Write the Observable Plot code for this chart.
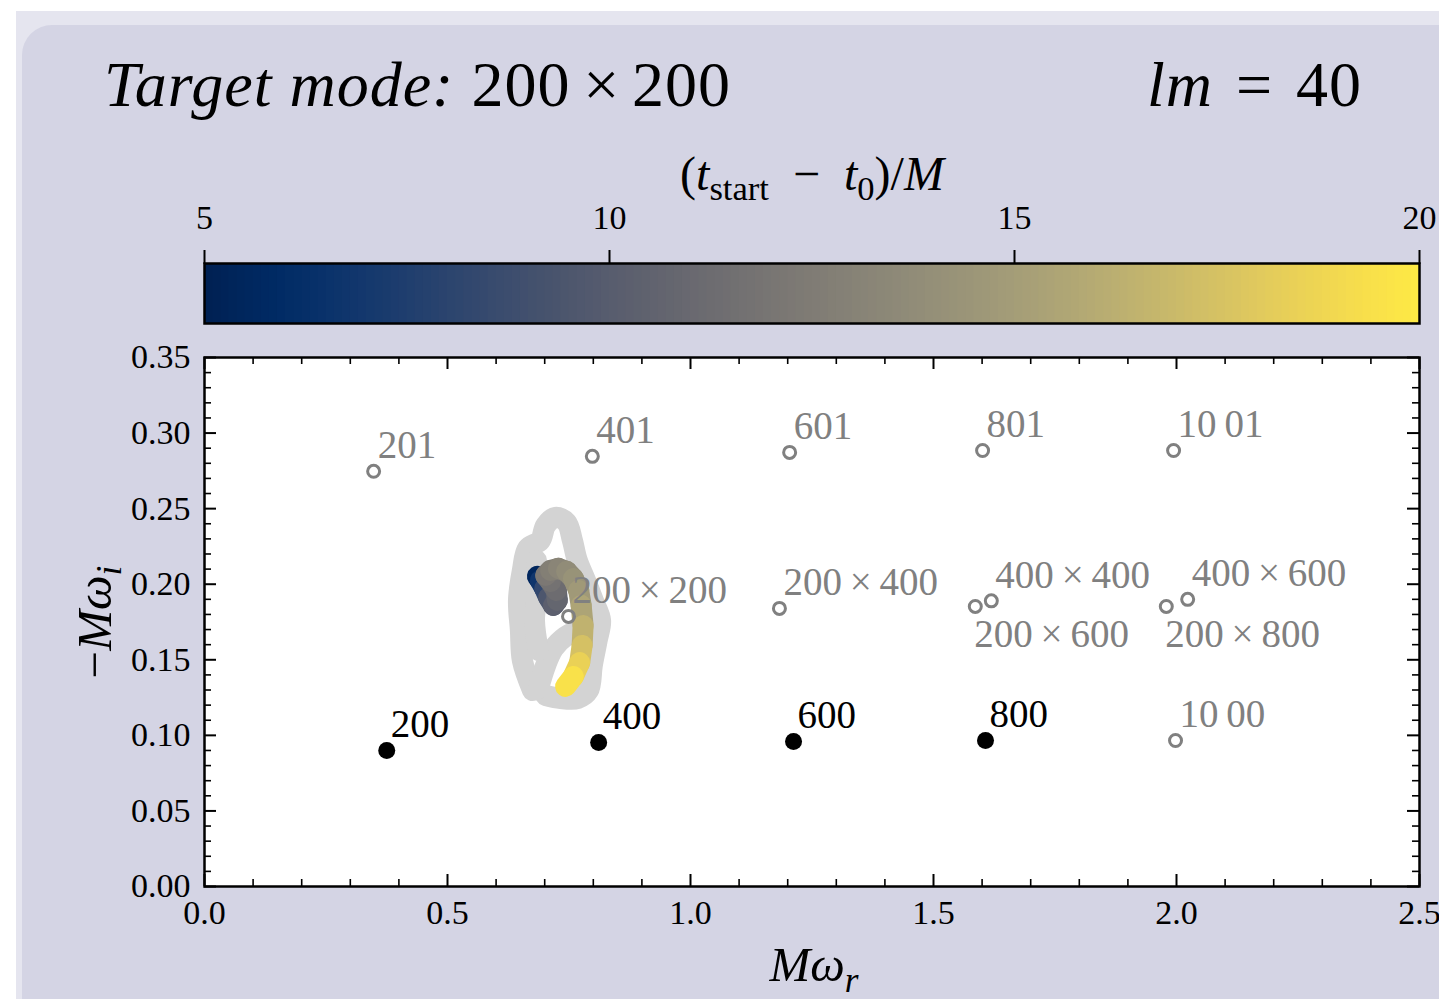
<!DOCTYPE html>
<html><head><meta charset="utf-8">
<script src="https://cdn.jsdelivr.net/npm/d3@7"></script>
<script src="https://cdn.jsdelivr.net/npm/@observablehq/plot@0.6"></script>
<style>
body{margin:0;background:#fff;width:1439px;height:999px;overflow:hidden;position:relative;font-family:"Liberation Serif","DejaVu Serif",serif;color:#000;}
#outer{position:absolute;left:16px;top:11px;width:1500px;height:1100px;background:#e5e5ef;}
#panel{position:absolute;left:22px;top:25px;width:1500px;height:1100px;background:#d4d4e4;border-radius:30px;}
.abs{position:absolute;white-space:nowrap;line-height:1;}
#cbar,#main{position:absolute;left:0;}
#cbar{top:150px;} #main{top:300px;}
sub{font-size:0.72em;vertical-align:-0.3em;line-height:0;}
</style></head><body>
<div id="outer"></div>
<div id="panel"></div>
<div id="cbar"></div>
<div id="main"></div>
<div class="abs" id="title" style="left:104px;top:53px;font-size:64px;letter-spacing:1px;"><i>Target mode:</i> 200<span style="letter-spacing:0">&thinsp;×&thinsp;</span>200</div>
<div class="abs" id="lm" style="right:77px;top:53px;font-size:64px;word-spacing:6px;letter-spacing:1px;"><i>lm</i> = 40</div>
<div class="abs" id="cblabel" style="left:812px;top:150px;font-size:48px;transform:translateX(-50%);">(<i>t</i><sub>start</sub>&ensp;−&ensp;<i>t</i><sub>0</sub>)/<i>M</i></div>
<div class="abs" id="xlabel" style="left:814px;top:940px;font-size:49px;transform:translateX(-50%);"><i>Mω</i><sub><i>r</i></sub></div>
<div class="abs" id="ylabel" style="left:94px;top:622px;font-size:49px;transform:translate(-50%,-50%) rotate(-90deg);">−<i>Mω</i><sub><i>i</i></sub></div>
<script>
// ---------- data ----------
const filledLabels = ["200", "400", "600", "800"];
const filledX = [0.375, 0.811, 1.212, 1.607];
const filledY = [0.090, 0.0953, 0.096, 0.0966];

const openLabels = ["10\u200900", "201", "401", "601", "801", "10\u200901",
  "200\u2009×\u2009200", "200\u2009×\u2009400", "200\u2009×\u2009600", "400\u2009×\u2009400", "200\u2009×\u2009800", "400\u2009×\u2009600"];
const openX = [1.998, 0.348, 0.798, 1.204, 1.601, 1.994, 0.749, 1.183, 1.586, 1.619, 1.979, 2.023];
const openY = [0.0966, 0.2747, 0.2846, 0.2872, 0.2885, 0.2885, 0.1787, 0.184, 0.1853, 0.189, 0.1853, 0.190];

// fitted trajectory coloured by start time
const trajT = [5, 6, 7.5, 9, 10, 10.5, 11, 11.5, 12, 12.5, 13, 13.5, 14, 14.5, 15, 16, 17, 18, 19, 20];
const trajX = [0.685, 0.691, 0.700, 0.708, 0.718, 0.726, 0.724, 0.712, 0.702, 0.712, 0.728, 0.745, 0.759, 0.770, 0.775, 0.779, 0.777, 0.772, 0.759, 0.743];
const trajY = [0.2052, 0.2025, 0.1972, 0.1913, 0.1860, 0.1893, 0.1959, 0.2018, 0.2058, 0.2091, 0.2105, 0.2085, 0.2038, 0.1959, 0.1860, 0.1727, 0.1595, 0.1482, 0.1390, 0.1324];

// light grey background trajectories
const greyOuter = [[0.675,0.1297],[0.654,0.1496],[0.650,0.1694],[0.646,0.1893],[0.654,0.2091],[0.665,0.2237],[0.691,0.2290],[0.702,0.2389],[0.722,0.2442],[0.745,0.2409],[0.757,0.2290],[0.767,0.2158],[0.784,0.2025],[0.800,0.1893],[0.815,0.1760],[0.808,0.1628],[0.798,0.1463],[0.790,0.1297],[0.768,0.1244],[0.733,0.1244],[0.702,0.1264]];
const greyInner = [[0.687,0.1310],[0.702,0.1463],[0.718,0.1575],[0.743,0.1655],[0.774,0.1707],[0.812,0.1793]];
const greyLeft = [[0.683,0.2158],[0.685,0.1959],[0.679,0.1760],[0.687,0.1562]];

const xMajor = [0, 0.5, 1.0, 1.5, 2.0, 2.5];
const yMajor = [0, 0.05, 0.10, 0.15, 0.20, 0.25, 0.30, 0.35];
const cbTicks = [5, 10, 15, 20];
const cbDomain = [5, 20];

// ---------- derived ----------
const font = "'Liberation Serif','DejaVu Serif',serif";
const filled = filledLabels.map((l, i) => ({label: l, x: filledX[i], y: filledY[i]}));
const open = openLabels.map((l, i) => ({label: l, x: openX[i], y: openY[i]}));
const below = new Set(["200\u2009×\u2009600", "200\u2009×\u2009800"]);
const segs = [];
for (let i = 0; i < trajT.length - 1; i++) segs.push({x1: trajX[i], y1: trajY[i], x2: trajX[i + 1], y2: trajY[i + 1], t: (trajT[i] + trajT[i + 1]) / 2});
const grey = [];
[greyOuter, greyInner, greyLeft].forEach((p, id) => p.forEach(([x, y]) => grey.push({id, x, y})));
const xMinor = d3.range(0, 26).map(i => i / 10).filter(v => !xMajor.some(m => Math.abs(m - v) < 1e-9));
const yMinor = d3.range(0, 36).map(i => i / 100).filter(v => !yMajor.some(m => Math.abs(m - v) < 1e-9));

const PW = 1215, PH = 529;

// ---------- colour bar ----------
const cells = d3.range(cbDomain[0], cbDomain[1], 0.1);
const cbar = Plot.plot({
  width: 1439, height: 185, marginLeft: 204, marginRight: 20, marginTop: 113, marginBottom: 12,
  x: {domain: cbDomain},
  color: {type: "linear", scheme: "cividis", domain: cbDomain},
  style: {background: "transparent", fontFamily: font, fontSize: "34px", overflow: "visible", color: "black"},
  marks: [
    Plot.rect(cells, {x1: d => d, x2: d => Math.min(cbDomain[1], d + 0.12), fill: d => d + 0.05}),
    Plot.frame({stroke: "black", strokeWidth: 2.5}),
    Plot.axisX({anchor: "top", ticks: cbTicks, tickSize: 14, tickPadding: 21, tickFormat: d => String(d), label: null, strokeWidth: 2, stroke: "black", fill: "black"})
  ]
});
document.getElementById("cbar").append(cbar);

// ---------- main plot ----------
const main = Plot.plot({
  width: 1439, height: 699, marginLeft: 204, marginRight: 20, marginTop: 57, marginBottom: 113,
  x: {domain: [0, 2.5]}, y: {domain: [0, 0.35]},
  color: {type: "linear", scheme: "cividis", domain: cbDomain},
  style: {background: "transparent", fontFamily: font, fontSize: "34px", overflow: "visible", color: "black"},
  marks: [
    Plot.frame({fill: "white"}),
    Plot.line(grey, {x: "x", y: "y", z: "id", stroke: "#d3d3d3", strokeWidth: 21, strokeLinecap: "round", strokeLinejoin: "round", curve: "catmull-rom"}),
    Plot.link(segs, {x1: "x1", y1: "y1", x2: "x2", y2: "y2", stroke: "t", strokeWidth: 21, strokeLinecap: "round"}),
    Plot.dot(filled, {x: "x", y: "y", r: 8.5, fill: "black"}),
    Plot.dot(open, {x: "x", y: "y", r: 6, stroke: "#808080", strokeWidth: 3, fill: "none"}),
    Plot.text(filled, {x: "x", y: "y", text: "label", textAnchor: "start", lineAnchor: "bottom", dx: 4, dy: -13, fontSize: 39, fill: "black"}),
    Plot.text(open.filter(d => !below.has(d.label)), {x: "x", y: "y", text: "label", textAnchor: "start", lineAnchor: "bottom", dx: 4, dy: -13, fontSize: 39, fill: "#808080"}),
    Plot.text(open.filter(d => below.has(d.label)), {x: "x", y: "y", text: "label", textAnchor: "start", lineAnchor: "top", dx: -1, dy: 13, fontSize: 39, fill: "#808080"}),
    // inward ticks on all sides
    Plot.tickX(xMajor, {x: d => d, insetTop: PH - 12, stroke: "black", strokeWidth: 2}),
    Plot.tickX(xMinor, {x: d => d, insetTop: PH - 7, stroke: "black", strokeWidth: 1.6}),
    Plot.tickX(xMajor, {x: d => d, insetBottom: PH - 12, stroke: "black", strokeWidth: 2}),
    Plot.tickX(xMinor, {x: d => d, insetBottom: PH - 7, stroke: "black", strokeWidth: 1.6}),
    Plot.tickY(yMajor, {y: d => d, insetRight: PW - 12, stroke: "black", strokeWidth: 2}),
    Plot.tickY(yMinor, {y: d => d, insetRight: PW - 7, stroke: "black", strokeWidth: 1.6}),
    Plot.tickY(yMajor, {y: d => d, insetLeft: PW - 12, stroke: "black", strokeWidth: 2}),
    Plot.tickY(yMinor, {y: d => d, insetLeft: PW - 7, stroke: "black", strokeWidth: 1.6}),
    Plot.axisX({ticks: xMajor, tickSize: 0, tickPadding: 13, tickFormat: d3.format(".1f"), label: null, fill: "black"}),
    Plot.axisY({ticks: yMajor, tickSize: 0, tickPadding: 14, tickFormat: d3.format(".2f"), label: null, fill: "black"}),
    Plot.frame({stroke: "black", strokeWidth: 2.5})
  ]
});
document.getElementById("main").append(main);
</script>
</body></html>
